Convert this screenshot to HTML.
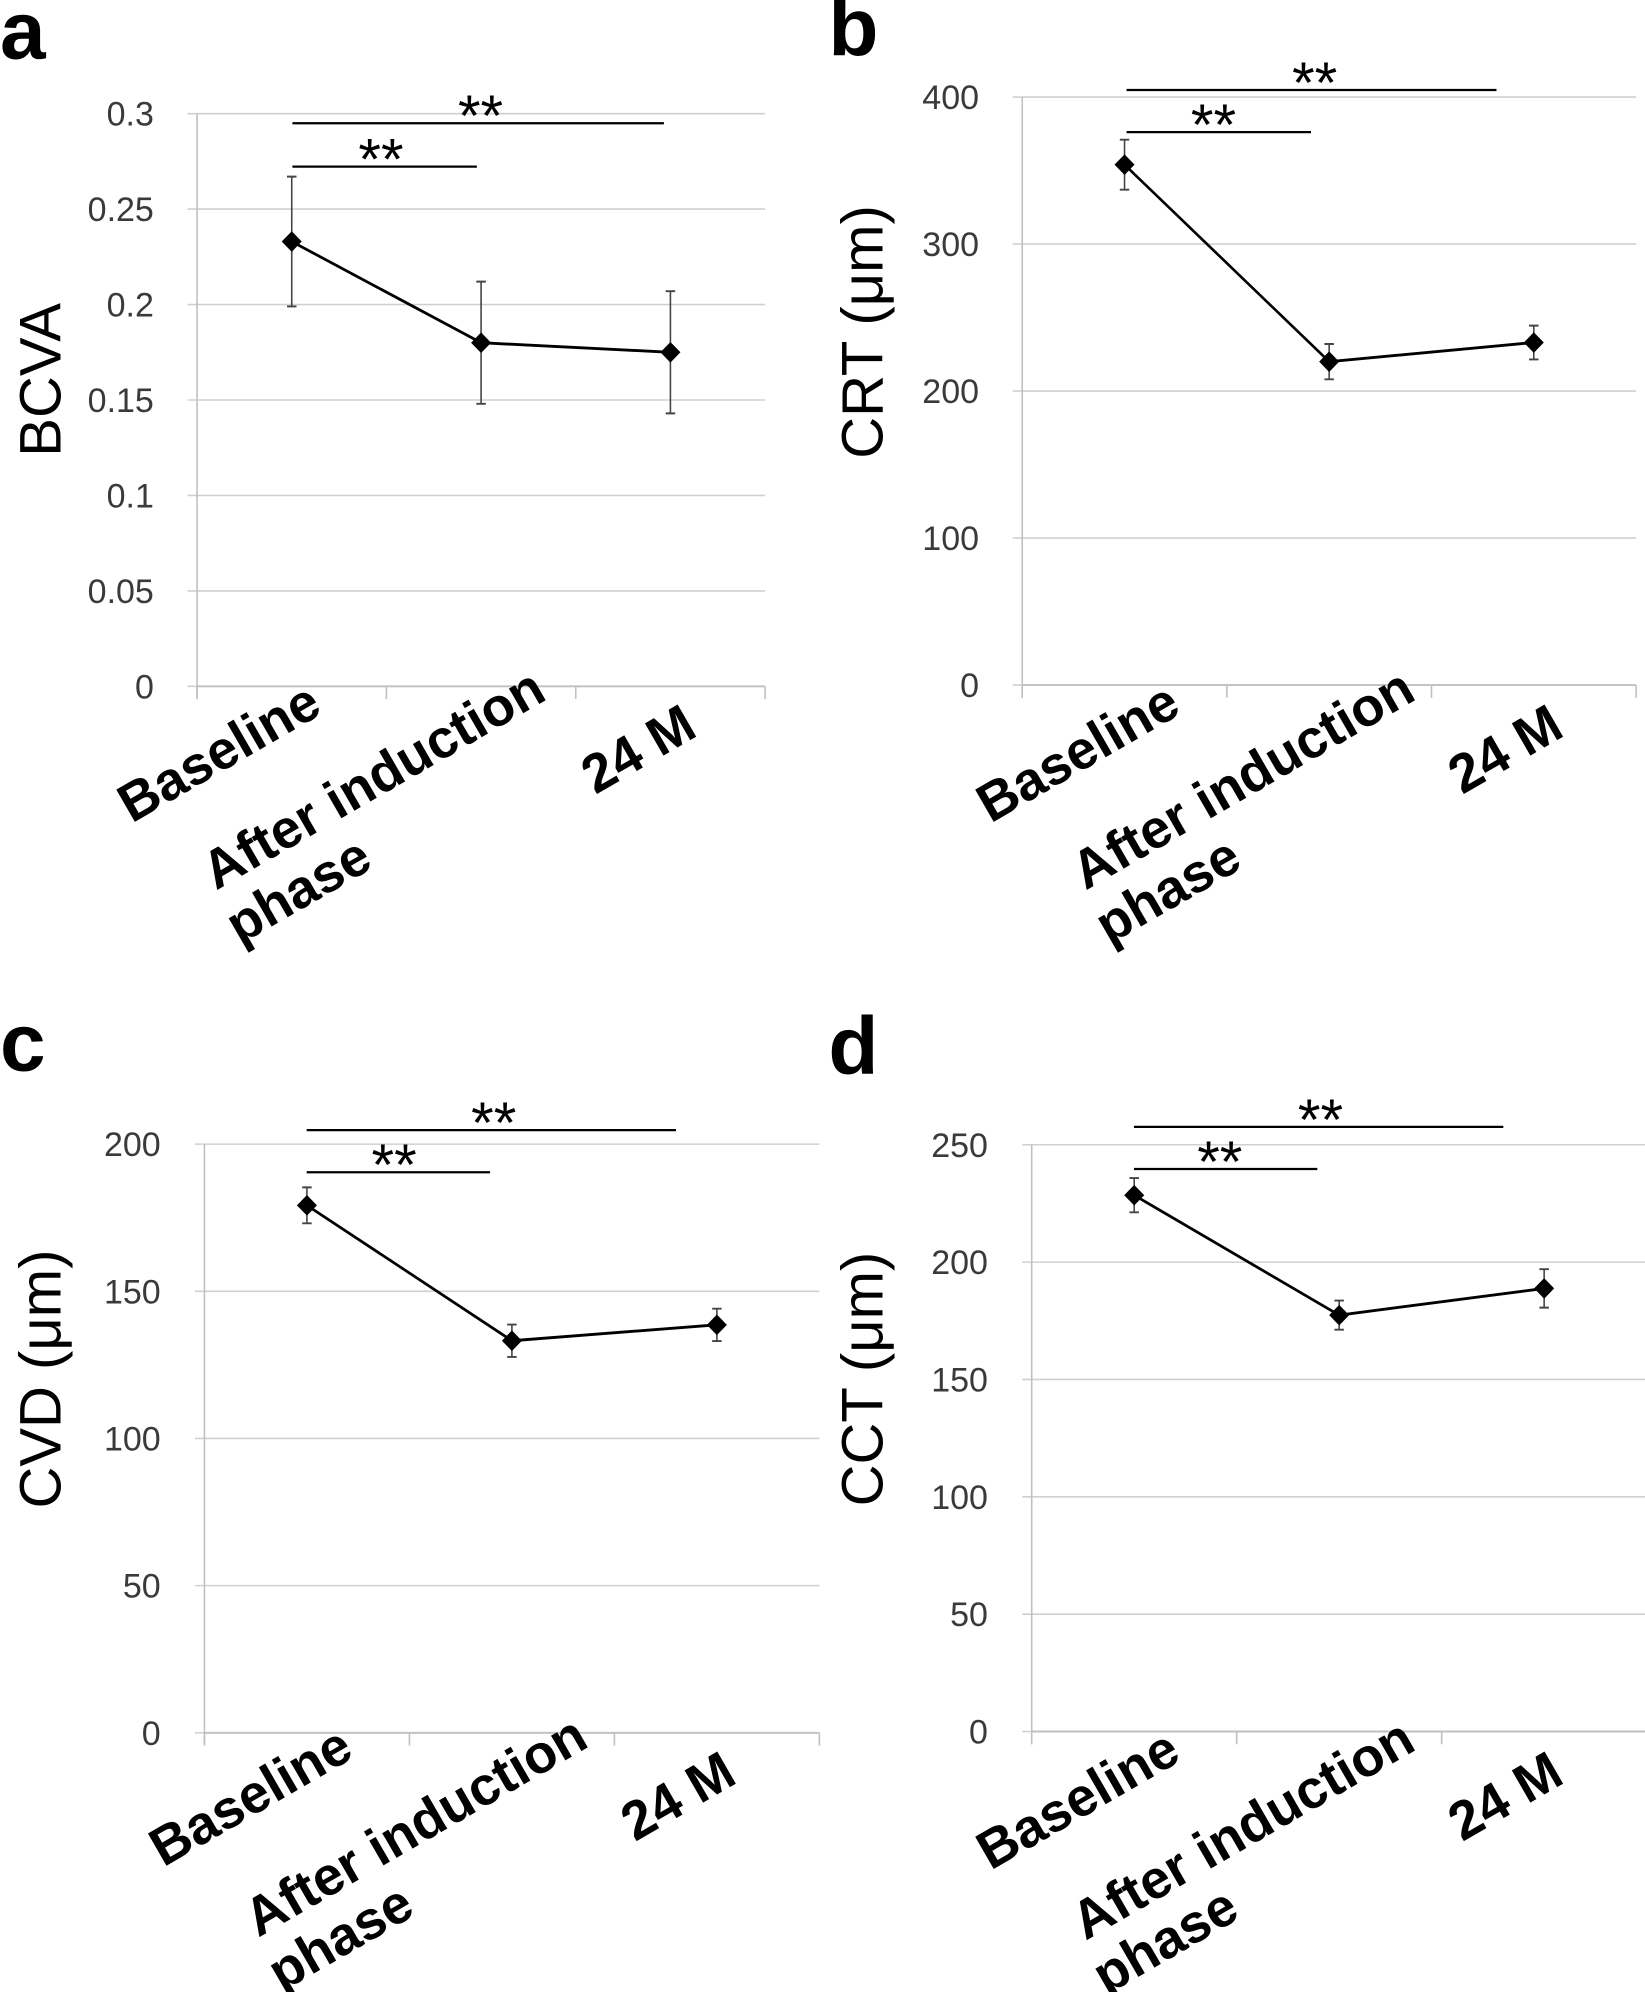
<!DOCTYPE html>
<html><head><meta charset="utf-8">
<style>
html,body{margin:0;padding:0;background:#fff;}
svg{display:block;}
text{font-family:"Liberation Sans",Arial,sans-serif;}
</style></head>
<body>
<svg id="fig" width="1645" height="1992" viewBox="0 0 1645 1992" xmlns="http://www.w3.org/2000/svg"></svg>
<script>
// ---- data ----
const categories = ["Baseline", "After induction", "24 M"];
const bcvaMean = [0.233, 0.180, 0.175];
const bcvaErr = [0.034, 0.032, 0.032];
const bcvaTicks = ["0", "0.05", "0.1", "0.15", "0.2", "0.25", "0.3"];
const crtMean = [354, 220, 233];
const crtErr = [17, 12, 11.5];
const crtTicks = ["0", "100", "200", "300", "400"];
const cvdMean = [179.2, 133.2, 138.6];
const cvdErr = [6.1, 5.5, 5.5];
const cvdTicks = ["0", "50", "100", "150", "200"];
const cctMean = [228.5, 177.4, 188.8];
const cctErr = [7.3, 6.2, 8.2];
const cctTicks = ["0", "50", "100", "150", "200", "250"];

const SX = 822/1560, SY = 996/1560;
const NS = "http://www.w3.org/2000/svg";
const fig = document.getElementById('fig');
function mk(tag, attrs, parent){const e=document.createElementNS(NS,tag);for(const k in attrs)e.setAttribute(k,attrs[k]);parent.appendChild(e);return e;}

const panels = [
 {letter:"a", ylabel:"BCVA", ox:0, oy:0, ax:374, right:1452, top:178, bot:1075, ymax:0.3, ticks:bcvaTicks, mean:bcvaMean, err:bcvaErr, tickRight:292,
  ylx:75, yly:595, lx:0, ly:95, sig:[[193,555,1260,912],[261,555,905,723]],
  lab:[[250,1290],[410,1395],[455,1480],[1130,1245]]},
 {letter:"b", ylabel:"CRT (\u03bcm)", ox:822, oy:0, ax:380, right:1545, top:152, bot:1073, ymax:400, ticks:crtTicks, mean:crtMean, err:crtErr, tickRight:298,
  ylx:75, yly:520, lx:12, ly:90, sig:[[141,578,1280,935],[207,578,928,743]],
  lab:[[320,1290],[500,1395],[545,1480],[1215,1245]]},
 {letter:"c", ylabel:"CVD (\u03bcm)", ox:0, oy:996, ax:388, right:1555, top:232, bot:1154, ymax:200, ticks:cvdTicks, mean:cvdMean, err:cvdErr, tickRight:305,
  ylx:75, yly:600, lx:0, ly:120, sig:[[210,582,1283,937],[276,582,930,748]],
  lab:[[310,1365],[490,1475],[535,1560],[1205,1325]]},
 {letter:"d", ylabel:"CCT (\u03bcm)", ox:822, oy:996, ax:398, right:1565, top:233, bot:1152, ymax:250, ticks:cctTicks, mean:cctMean, err:cctErr, tickRight:315,
  ylx:75, yly:600, lx:12, ly:125, sig:[[205,592,1293,946],[271,592,940,755]],
  lab:[[320,1370],[500,1480],[540,1565],[1215,1325]]}
];

panels.forEach(p=>{
  const g = mk('g',{transform:`translate(${p.ox},${p.oy}) scale(${SX},${SY})`},fig);
  
  
  const tg = mk('g',{},fig);
  
  
  const PX = zx => p.ox + zx*SX, PY = zy => p.oy + zy*SY;
  const yScale = v => p.bot - (v/p.ymax)*(p.bot-p.top);
  const band = (p.right-p.ax)/categories.length;
  const xScale = i => p.ax + band*(i+0.5);

  const L = mk('text',{x:PX(p.lx),y:PY(p.ly)-2,'font-size':82,'font-weight':'bold',fill:'#000'},tg);
  L.textContent = p.letter;
  
  

  p.ticks.forEach(t=>{
    const v = parseFloat(t), y = yScale(v);
    const gl = mk('line',{x1:p.ax-18,x2:p.right,y1:y,y2:y,stroke:'#d0d0d0','stroke-width':2.5},g);
    
    
    const tl = mk('text',{x:PX(p.tickRight),y:PY(y)+12,'font-size':34,'text-anchor':'end',fill:'#3a3a3a'},tg);
    tl.textContent = t;
    
    
  });
  const ya = mk('line',{x1:p.ax,x2:p.ax,y1:p.top,y2:p.bot+20,stroke:'#c0c0c0','stroke-width':3},g);
  
  
  for(let i=0;i<=categories.length;i++){
    const x = p.ax+band*i;
    const tk = mk('line',{x1:x,x2:x,y1:p.bot,y2:p.bot+20,stroke:'#c0c0c0','stroke-width':3},g);
    
    
  }
  const xa = mk('line',{x1:p.ax,x2:p.right,y1:p.bot,y2:p.bot,stroke:'#c0c0c0','stroke-width':3},g);
  
  

  const yl = mk('text',{x:0,y:0,'font-size':58,'text-anchor':'middle',fill:'#000',transform:`translate(${PX(p.ylx)+21},${PY(p.yly)}) rotate(-90)`},tg);
  yl.textContent = p.ylabel;
  
  

  const labs = [categories[0], categories[1], "phase", categories[2]];
  labs.forEach((t,i)=>{
    const [lx,ly] = p.lab[i];
    const ct = mk('text',{x:0,y:0,'font-size':54,'font-weight':'bold',fill:'#000',transform:`translate(${PX(lx)},${PY(ly)}) rotate(-30)`},tg);
    ct.textContent = t;
    
    
  });

  p.mean.forEach((m,i)=>{
    const x = xScale(i), y1 = yScale(m+p.err[i]), y2 = yScale(m-p.err[i]);
    const eb = mk('path',{d:`M${x},${y1}V${y2}M${x-9},${y1}H${x+9}M${x-9},${y2}H${x+9}`,stroke:'#444',fill:'none','stroke-width':3},g);
    
    
  });
  const pts = p.mean.map((m,i)=>`${xScale(i)},${yScale(m)}`).join(' ');
  const pl = mk('polyline',{points:pts,fill:'none',stroke:'#000','stroke-width':4.5},g);
  
  
  p.mean.forEach((m,i)=>{
    const x = xScale(i), y = yScale(m), r = 19;
    const mkr = mk('path',{d:`M${x},${y-r*0.85}L${x+r},${y}L${x},${y+r*0.85}L${x-r},${y}Z`,fill:'#000'},g);
    
    
  });

  p.sig.forEach(s=>{
    const [sy,x1,x2,sc] = s;
    const sl = mk('line',{x1:x1,x2:x2,y1:sy,y2:sy,stroke:'#000','stroke-width':3.5},g);
    
    
    const st = mk('text',{x:PX(sc),y:PY(sy)+13,'font-size':58,'text-anchor':'middle',fill:'#000'},tg);
    st.textContent = "**";
    
    
  });
});
</script>
</body></html>
